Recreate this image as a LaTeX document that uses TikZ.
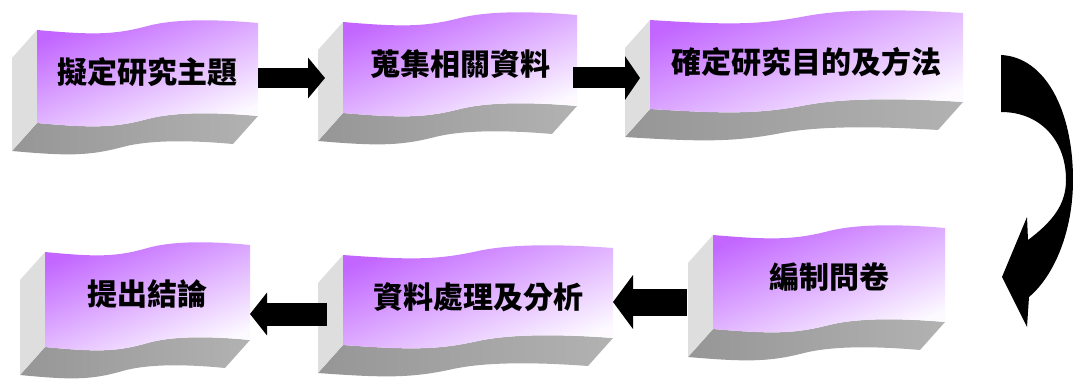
\documentclass[tikz,border=0pt]{standalone}
\usepackage{fontspec}
\newfontfamily\cjk{Noto Sans CJK TC}
\usetikzlibrary{arrows.meta}
\definecolor{vtop}{RGB}{194,102,255}
\definecolor{vmid}{RGB}{226,186,255}
\definecolor{vbot}{RGB}{252,249,255}
\definecolor{sideg}{RGB}{222,222,222}
\definecolor{botg}{RGB}{150,150,150}
\definecolor{botl}{RGB}{178,178,178}
\tikzset{
  frontface/.style={top color=vtop, middle color=vmid, bottom color=vbot, shading angle=22},
  sideface/.style={fill=sideg},
  bottomface/.style={left color=botg, right color=botl},
  boxtext/.style={font=\cjk\bfseries\fontsize{30}{30}\selectfont, inner sep=0pt, text=black},
  blockarrow/.style={draw=black, line cap=butt}
}
\newcommand\wavebox[6]{%
\begin{scope}[shift={(#2,#3)}]
 \pgfmathsetmacro\W{#4}
 \pgfmathsetmacro\H{#5}
 \path[bottomface] (0,\H) .. controls ({0.25*\W},{\H+5}) and ({0.35*\W},{\H+5}) .. ({0.5*\W},{\H-4}) .. controls ({0.62*\W},{\H-11}) and ({0.8*\W},{\H-11}) .. (\W,{\H-7}) -- ({\W-25},{\H+21}) .. controls ({0.8*\W-25},{\H+17}) and ({0.62*\W-25},{\H+17}) .. ({0.5*\W-25},{\H+24}) .. controls ({0.35*\W-25},{\H+33}) and ({0.25*\W-25},{\H+33}) .. (-25,{\H+28}) -- cycle;
 \path[sideface] (0,0) -- (0,\H) -- (-25,{\H+28}) -- (-25,28) -- cycle;
 \path[frontface] (0,0) .. controls ({0.25*\W},5) and ({0.35*\W},5) .. ({0.5*\W},-4) .. controls ({0.62*\W},-11) and ({0.8*\W},-11) .. (\W,-7) -- (\W,{\H-7}) .. controls ({0.8*\W},{\H-11}) and ({0.62*\W},{\H-11}) .. ({0.5*\W},{\H-4}) .. controls ({0.35*\W},{\H+5}) and ({0.25*\W},{\H+5}) .. (0,\H) -- cycle;
 \node[boxtext] (#1) at ({0.5*\W},42) {#6};
\end{scope}}
\begin{document}
\begin{tikzpicture}[x=1pt,y=-1pt]
\useasboundingbox (0,0) rectangle (1073,382);
\wavebox{b1}{37}{30}{221}{93}{擬定研究主題}
\wavebox{b2}{343}{22}{234}{91}{蒐集相關資料}
\wavebox{b3}{650}{20}{313}{89}{確定研究目的及方法}
\wavebox{b4}{713}{235}{232}{94}{編制問卷}
\wavebox{b5}{343}{255}{270}{90}{資料處理及分析}
\wavebox{b6}{45}{252}{205}{95}{提出結論}
% arrow end points
\coordinate (a1s) at (258,78);  \coordinate (a1e) at (325,78);
\coordinate (a2s) at (573,78);  \coordinate (a2e) at (640,78);
\coordinate (a3s) at (687,302); \coordinate (a3e) at (613,302);
\coordinate (a4s) at (327,314); \coordinate (a4e) at (250,314);
\draw[blockarrow, line width=20pt, -{Triangle[length=17pt,width=40pt]}] (a1s) -- (a1e);
\draw[blockarrow, line width=21pt, -{Triangle[length=15pt,width=43pt]}] (a2s) -- (a2e);
\draw[blockarrow, line width=27pt, -{Triangle[length=20pt,width=53pt]}] (a3s) -- (a3e);
\draw[blockarrow, line width=23pt, -{Triangle[length=17pt,width=42pt]}] (a4s) -- (a4e);
% curved arrow from b3 to b4
\fill[black] (1001,55) .. controls (1045,57) and (1073,110) .. (1073,180) .. controls (1073,230) and (1055,275) .. (1029,297) -- (1027,327) -- (1002,277) -- (1027,217) -- (1028,240) .. controls (1052,222) and (1066,205) .. (1066,180) .. controls (1066,140) and (1040,112) .. (1001,112) -- cycle;
\end{tikzpicture}
\end{document}
